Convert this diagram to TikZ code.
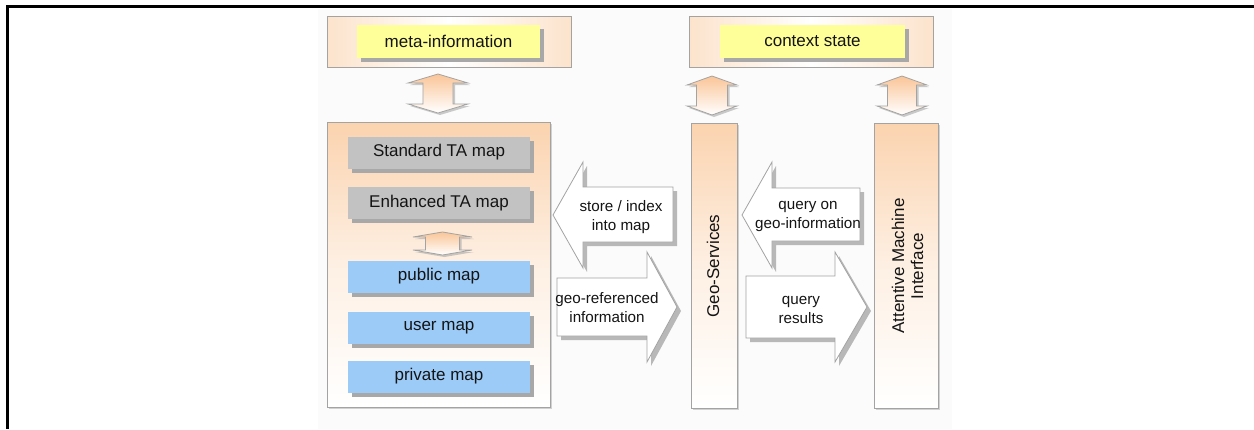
\documentclass[tikz,border=0pt]{standalone}
\usepackage{fontspec}
\setmainfont{Liberation Sans}
\usetikzlibrary{shadows}

\definecolor{peach}{HTML}{FAC597}
\definecolor{colpeach}{HTML}{FBD3AF}
\definecolor{peachlight}{HTML}{FCE3CC}
\definecolor{edgegray}{HTML}{A3A3A3}
\definecolor{shadowgray}{HTML}{A8A8A8}
\definecolor{boxgray}{HTML}{C2C2C2}
\definecolor{boxblue}{HTML}{9CCBF7}
\definecolor{boxyellow}{HTML}{FFFF99}
\definecolor{txt}{HTML}{141414}
\definecolor{bgfaint}{HTML}{FBFBFB}

\newcommand\boxfont{\fontsize{17}{19}\selectfont}
\newcommand\arrfont{\fontsize{15.2}{19}\selectfont}

% up/down double block arrow: centre x, top y, bottom y, head half width, shaft half width, head height
\newcommand\udarrow[6]{%
  \path[draw=edgegray, line width=0.8pt, top color=peach, bottom color=white,
        drop shadow={shadow xshift=2pt, shadow yshift=-2pt, opacity=0.6, fill=shadowgray}]
    (#1,#2) -- (#1+#4,#2+#6) -- (#1+#5,#2+#6) -- (#1+#5,#3-#6) -- (#1+#4,#3-#6)
    -- (#1,#3) -- (#1-#4,#3-#6) -- (#1-#5,#3-#6) -- (#1-#5,#2+#6) -- (#1-#4,#2+#6) -- cycle;}

\tikzset{
  shad/.style={drop shadow={shadow xshift=4pt, shadow yshift=-4pt, opacity=1, fill=shadowgray}},
  inbox/.style={shad, minimum width=182pt, minimum height=32pt, inner sep=0pt,
                font=\boxfont, text=txt},
  graybox/.style={inbox, fill=boxgray},
  bluebox/.style={inbox, fill=boxblue},
  yellowbox/.style={shad, fill=boxyellow, minimum height=33pt, inner sep=0pt,
                    font=\boxfont, text=txt},
  topframe/.style={draw=edgegray, line width=0.9pt, left color=peachlight,
                   right color=peachlight, middle color=white, inner sep=0pt},
  colframe/.style={draw=edgegray, line width=0.9pt, top color=colpeach,
                   bottom color=white, middle color=peachlight!55, inner sep=0pt,
                   drop shadow={shadow xshift=1.5pt, shadow yshift=-1.5pt, opacity=0.5, fill=shadowgray}},
  blockarrow/.style={draw=edgegray, line width=0.8pt, fill=white,
                     drop shadow={shadow xshift=4pt, shadow yshift=-4pt, opacity=0.8, fill=shadowgray}},
  arrlabel/.style={font=\arrfont, text=txt, align=center, inner sep=0pt},
  vlabel/.style={font=\boxfont, text=txt, align=center, inner sep=0pt, rotate=90},
}

\begin{document}
\begin{tikzpicture}[x=1pt, y=-1pt, line join=miter]
\useasboundingbox (0,0) rectangle (1254,429);
\fill[bgfaint] (318,9) rectangle (952,429);
\draw[line width=2.5pt] (1254,6.5) -- (7.5,6.5) -- (7.5,429);

% top frames
\node[topframe, minimum width=244pt, minimum height=51pt] (metaframe) at (449,41.5) {};
\node[yellowbox, minimum width=183pt] (meta) at (448.5,41.5) {meta-information};
\node[topframe, minimum width=244pt, minimum height=51pt] (ctxframe) at (811,41.5) {};
\node[yellowbox, minimum width=185pt] (ctx) at (812.5,41.5) {context state};

% columns
\node[colframe, minimum width=223pt, minimum height=285pt] (maps) at (438.5,264.5) {};
\node[colframe, minimum width=46pt, minimum height=285pt] (geo) at (714,265.5) {};
\node[colframe, minimum width=64pt, minimum height=285pt] (ami) at (906,265.5) {};
\node[vlabel] (geotxt) at (713,266) {Geo-Services};
\node[vlabel] (amitxt) at (907.5,266) {Attentive Machine\\Interface};

% double arrows between frames and columns
\udarrow{438}{74}{113}{30}{15}{9}
\udarrow{712}{76}{115}{25}{15.5}{9}
\udarrow{902}{76}{115}{25}{14.5}{9}

% map layers
\node[graybox] (std) at (439,152.5) {Standard TA map};
\node[graybox] (enh) at (439,203) {Enhanced TA map};
\udarrow{442.5}{232}{255}{29.5}{17}{5}
\node[bluebox] (pub) at (439,276.5) {public map};
\node[bluebox] (usr) at (439,327.5) {user map};
\node[bluebox] (prv) at (439,376.5) {private map};

% block arrows
\path[blockarrow] (553,215) -- (583,162) -- (583,187) -- (673,187) -- (673,242)
  -- (583,242) -- (583,268) -- cycle;
\node[arrlabel] (storetxt) at (621,217) {store / index\\into map};

\path[blockarrow] (557,278) -- (647,278) -- (647,252) -- (677,307) -- (647,362)
  -- (647,336) -- (557,336) -- cycle;
\node[arrlabel] (georeftxt) at (607,307.5) {geo-referenced\\information};

\path[blockarrow] (742,215) -- (772,162) -- (772,188) -- (860,188) -- (860,241)
  -- (772,241) -- (772,268) -- cycle;
\node[arrlabel] (querytxt) at (808,216.5) {query on\\geo-information};

\path[blockarrow] (746,276) -- (835,276) -- (835,252) -- (867,307) -- (835,362)
  -- (835,338) -- (746,338) -- cycle;
\node[arrlabel] (resulttxt) at (801,309.5) {query\\results};
\end{tikzpicture}
\end{document}
